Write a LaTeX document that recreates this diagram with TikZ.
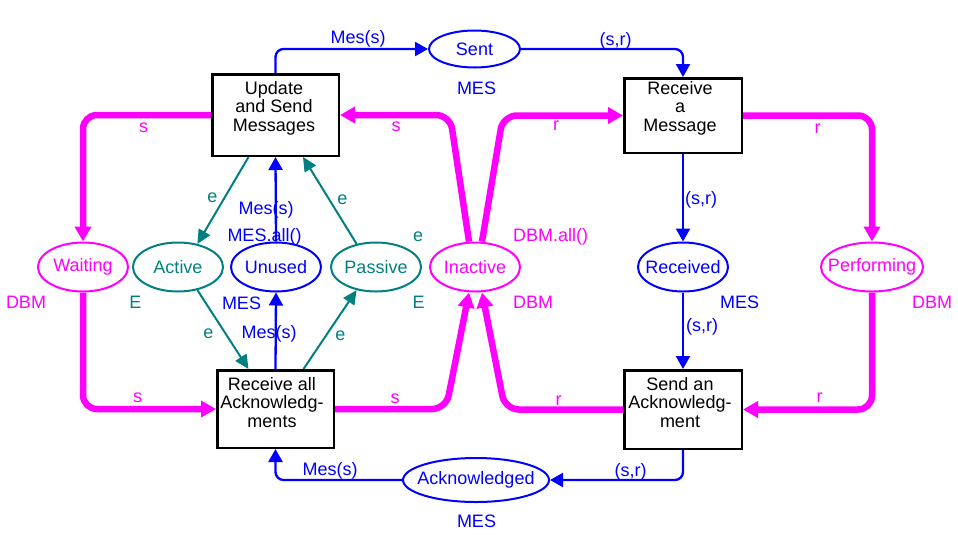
\documentclass[tikz,border=0pt]{standalone}
\usepackage{fontspec}
\setmainfont{Liberation Sans}
\usetikzlibrary{shapes.geometric,arrows.meta}
\definecolor{pblue}{RGB}{0,0,255}
\definecolor{pmag}{RGB}{255,0,255}
\definecolor{pteal}{RGB}{0,128,128}
\begin{document}
\begin{tikzpicture}[x=1pt,y=-1pt,
  txt/.style={font=\fontsize{18}{18.5}\selectfont, inner sep=0pt},
  place/.style={ellipse, draw, line width=2pt, minimum width=90pt, minimum height=49pt, inner sep=0pt},
  bplace/.style={place, draw=pblue, label={[txt, text=pblue]center:#1}},
  mplace/.style={place, draw=pmag, label={[txt, text=pmag]center:#1}},
  tplace/.style={place, draw=pteal, label={[txt, text=pteal]center:#1}},
  trans/.style={rectangle, draw=black, fill=white, line width=2.5pt, inner sep=0pt},
  btext/.style={txt, align=center, text=black},
  blab/.style={txt, text=pblue},
  mlab/.style={txt, text=pmag},
  tlab/.style={txt, text=pteal},
  barc/.style={draw=pblue, line width=2.3pt, rounded corners=8pt, -{Triangle[length=13pt,width=14pt]}},
  marc/.style={draw=pmag, line width=6.5pt, rounded corners=14pt, -{Triangle[length=15pt,width=16pt]}},
  tarc/.style={draw=pteal, line width=2pt, -{Triangle[length=14pt,width=13pt]}}
]
\useasboundingbox (0,0) rectangle (958,547);

% transitions
\node[trans, minimum width=126.5pt, minimum height=81.5pt] (upd) at (275.5,115) {};
\node[trans, minimum width=117.5pt, minimum height=74.5pt] (rmsg) at (683,115.5) {};
\node[trans, minimum width=116.5pt, minimum height=77.5pt] (rall) at (275.5,409) {};
\node[trans, minimum width=117.5pt, minimum height=78.5pt] (sack) at (683,409.5) {};
\node[btext] (updt) at (274,108) {Update\\and Send\\Messages};
\node[btext] (rmsgt) at (680,108) {Receive\\a\\Message};
\node[btext] (rallt) at (272,402.5) {Receive all\\Acknowledg-\\ments};
\node[btext] (sackt) at (680,402.5) {Send an\\Acknowledg-\\ment};

% places
\node[bplace=Sent, minimum width=91pt, minimum height=37pt] (sent) at (474.5,49) {};
\node[mplace=Waiting] (wait) at (83,267) {};
\node[tplace=Active] (act) at (178,267) {};
\node[bplace=Unused] (unused) at (276,267) {};
\node[tplace=Passive] (pas) at (376,267) {};
\node[mplace=Inactive] (inact) at (475,267) {};
\node[bplace=Received] (recd) at (683,267) {};
\node[mplace=Performing, minimum width=102pt] (perf) at (872,267) {};
\node[bplace=Acknowledged, minimum width=146pt, minimum height=44pt] (ackd) at (476,480) {};

% blue arcs
\draw[barc] (upd.north) |- (sent.west);
\draw[barc] (sent.east) -| (rmsg.north);
\draw[barc] (rmsg.south) -- (recd.north);
\draw[barc] (recd.south) -- (sack.north);
\draw[barc] (sack.south) |- (ackd.east);
\draw[barc] (ackd.west) -| (rall.south);
\draw[barc] (unused.north) -- (upd.south);
\draw[barc] (rall.north) -- (unused.south);

% teal arcs
\draw[tarc] ([xshift=-27pt]upd.south) -- (act.50);
\draw[tarc] (pas.130) -- ([xshift=27.5pt]upd.south);
\draw[tarc] (act.-50) -- ([xshift=-27pt]rall.north);
\draw[tarc] ([xshift=28pt]rall.north) -- (pas.-130);

% magenta arcs
\draw[marc] (upd.west) -| (wait.north);
\draw[marc] (wait.south) |- (rall.west);
\draw[marc] ([xshift=-6pt]inact.north) -- (450,115) -- (upd.east);
\draw[marc] ([xshift=7pt]inact.north) -- (503,115.5) -- (rmsg.west);
\draw[marc] (rmsg.east) -| (perf.north);
\draw[marc] (perf.south) |- (sack.east);
\draw[marc] (rall.east) -- (446,409) -- ([xshift=-6pt]inact.south);
\draw[marc] (sack.west) -- (505,409.5) -- ([xshift=7pt]inact.south);

% blue labels
\node[blab] (l1) at (358,39) {Mes(s)};
\node[blab] (l2) at (615.5,40.5) {(s,r)};
\node[blab] (l3) at (476.5,88) {MES};
\node[blab] (l4) at (701,199.5) {(s,r)};
\node[blab] (l5) at (739.5,302) {MES};
\node[blab] (l6) at (702,327) {(s,r)};
\node[blab] (l7) at (630.5,471.5) {(s,r)};
\node[blab] (l8) at (476.5,521) {MES};
\node[blab] (l9) at (330,471) {Mes(s)};
\node[blab] (l10) at (266,210) {Mes(s)};
\node[blab] (l11) at (264.5,236.5) {MES.all()};
\node[blab] (l12) at (241.5,303) {MES};
\node[blab] (l13) at (269,334) {Mes(s)};

% magenta labels
\node[mlab] (m1) at (143.5,128) {s};
\node[mlab] (m2) at (396,126.5) {s};
\node[mlab] (m3) at (556,126) {r};
\node[mlab] (m4) at (817.5,128.5) {r};
\node[mlab] (m5) at (550.5,236.5) {DBM.all()};
\node[mlab] (m6) at (26,302) {DBM};
\node[mlab] (m7) at (533,302) {DBM};
\node[mlab] (m8) at (932,302) {DBM};
\node[mlab] (m9) at (137.5,397.5) {s};
\node[mlab] (m10) at (395,399) {s};
\node[mlab] (m11) at (558.5,401) {r};
\node[mlab] (m12) at (819.5,397.5) {r};

% teal labels
\node[tlab] (t1) at (212.5,197.5) {e};
\node[tlab] (t2) at (342.5,200) {e};
\node[tlab] (t3) at (418,237) {e};
\node[tlab] (t4) at (135.5,302) {E};
\node[tlab] (t5) at (418.5,302) {E};
\node[tlab] (t6) at (208.5,334) {e};
\node[tlab] (t7) at (340.5,336) {e};
\end{tikzpicture}
\end{document}
